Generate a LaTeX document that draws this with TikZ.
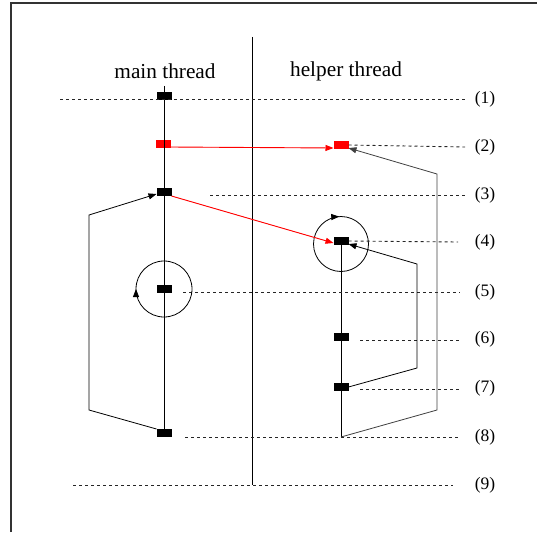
\documentclass[tikz,border=0pt]{standalone}
\usepackage{fontspec}
\setmainfont{Liberation Serif}
\usetikzlibrary{arrows.meta,calc,decorations.markings}
\begin{document}
\begin{tikzpicture}[x=1pt,y=-1pt,
  blk/.style={fill=black,minimum width=15pt,minimum height=8pt,inner sep=0pt,outer sep=0pt},
  redblk/.style={blk,fill=red},
  refline/.style={dashed,dash pattern=on 3pt off 3pt,draw=black!85,line width=0.9pt},
  flow/.style={line width=0.8pt,-{Triangle[length=8pt,width=6pt]}},
  redflow/.style={flow,line width=0.9pt,draw=red,fill=red},
  lab/.style={font=\fontsize{17.5}{20}\selectfont,inner sep=0pt},
  title/.style={font=\fontsize{21.3}{24}\selectfont,inner sep=0pt}]
\useasboundingbox (0,0) rectangle (537,532);
% frame
\draw[line width=1.2pt,draw=black!80] (11,532) -- (11,3) -- (537,3);
% divider
\draw[line width=0.9pt] (252,37) -- (252,485);
% titles
\node[title] (tm) at (165,71) {main thread};
\node[title] (th) at (346,71) {helper thread};
% labels
\foreach \i/\y in {1/99,2/147,3/195,4/242,5/292,6/339,7/388,8/437,9/485}
  \node[lab] (L\i) at (485,\y) {(\i)};
% blocks
\node[blk] (m1) at (164,96) {};
\node[redblk] (m2) at (163,144) {};
\node[blk] (m3) at (164,192) {};
\node[blk] (m5) at (164,289) {};
\node[blk] (m8) at (164,433) {};
\node[redblk] (h2) at (341,145) {};
\node[blk] (h4) at (341,241) {};
\node[blk] (h6) at (341,337) {};
\node[blk] (h7) at (341,387) {};
\coordinate (mtop) at (164,86);
\coordinate (h8) at (341,437);
% thread lines
\draw[line width=0.8pt] (mtop) -- (m8.center);
\draw[line width=0.8pt] (h4.center) -- (h8);
% reference lines
\draw[refline] (60,99) -- (465,99);
\draw[refline] (h2.east) -- (465,147);
\draw[refline] (210,195) -- (465,195);
\draw[refline] (h4.east) -- (458,242);
\draw[refline] (183,292) -- (460,292);
\draw[refline] (360,340) -- (460,340);
\draw[refline] (360,389) -- (460,389);
\draw[refline] (185,437) -- (460,437);
\draw[refline] (73,485) -- (453,485);
% circles
\draw[line width=0.8pt,postaction={decorate},
  decoration={markings,mark=at position 0.5 with {\arrow{Triangle[length=8pt,width=6pt]}}}]
  (m5.center) circle (28);
\draw[line width=0.8pt,postaction={decorate},
  decoration={markings,mark=at position 0.74 with {\arrow{Triangle[length=8pt,width=6pt]}}}]
  (341,244) circle (27.5);
% red transfers
\draw[redflow] ($(m2.east)+(0,3)$) -- ($(h2.west)+(0,3)$);
\draw[redflow] (m3.south east) -- ($(h4.west)+(0,2)$);
% loops
\draw[flow] (m8.north west) -- (89,410) -- (89,215) -- ($(m3.west)+(0,2)$);
\draw[flow] (h7.east) -- (417,368) -- (417,264) -- ($(h4.east)+(0,3)$);
\draw[flow,draw=black!75] (h8) -- (437,410) -- (437,174) -- ($(h2.east)+(0,3)$);
\end{tikzpicture}
\end{document}
